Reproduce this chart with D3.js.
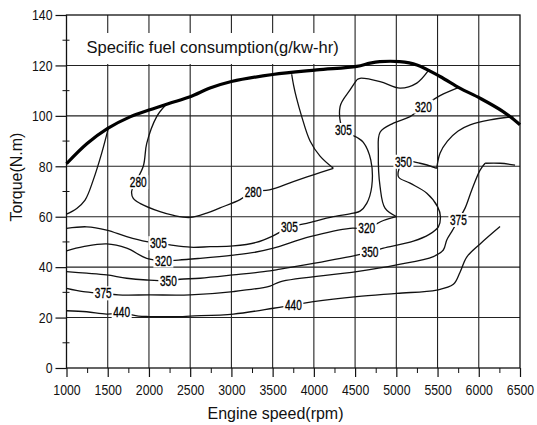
<!DOCTYPE html>
<html>
<head>
<meta charset="utf-8">
<script src="https://cdn.jsdelivr.net/npm/d3@7"></script>
<style>
  body { margin: 0; background: #fff; }
  svg { display: block; font-family: "Liberation Sans", Arial, sans-serif; }
</style>
</head>
<body>
<div id="chart"></div>
<script>
// ── Data ──────────────────────────────────────────────────────────────────
// Points are [engine speed rpm, torque N.m]
const speedTicks  = [1000, 1500, 2000, 2500, 3000, 3500, 4000, 4500, 5000, 5500, 6000, 6500];
const speedMinor  = [1250, 1750, 2250, 2750, 3250, 3750, 4250, 4750, 5250, 5750, 6250];
const torqueTicks = [0, 20, 40, 60, 80, 100, 120, 140];
const torqueMinor = [10, 30, 50, 70, 90, 110, 130];

// full-load (max torque) curve
const maxTorque = [[1000, 81], [1250, 89], [1500, 95], [1770, 99.6], [2000, 102.3], [2250, 105],
  [2500, 107.6], [2740, 111], [3000, 113.6], [3500, 116.4], [4035, 118.2], [4520, 119.6],
  [4680, 120.9], [4800, 121.5], [5040, 121.5], [5250, 120.2], [5530, 115.6], [5770, 111],
  [6015, 107], [6295, 101.7], [6500, 96.5]];

// iso-sfc lines, one array per drawn stroke (split where the pen turns a corner)
const sfc280a = [[1000, 61], [1124, 63.3], [1225, 66.6], [1325, 74.6], [1427, 85.2], [1507, 95]];
const sfc280b = [[2203, 104.3], [2094, 99.7], [1973, 89.1], [1931, 80], [1790, 70], [1810, 67.3],
  [1891, 65.3], [2134, 62], [2300, 60.5], [2498, 59.7], [2700, 61.4], [2862, 63.5], [3105, 66.8],
  [3263, 70], [3460, 70.6], [3751, 73.9], [3994, 76.6], [4236, 79.2]];
const sfc280c = [[4236, 79.2], [4075, 84], [3954, 90], [3850, 100], [3790, 107], [3755, 112], [3731, 116.5]];
const sfc305a = [[1000, 55.4], [1245, 56], [1487, 54.7], [1730, 52.1], [1973, 50.1], [2114, 49.5],
  [2255, 48.8], [2502, 47.9], [2741, 48.1], [3023, 48.4], [3300, 49.8], [3510, 52.5], [3703, 55.8],
  [3913, 57.4], [4236, 60], [4479, 61.4], [4560, 62.2], [4641, 65.3], [4702, 72], [4690, 82.5],
  [4600, 89.5], [4520, 91.5], [4358, 94.4], [4318, 103.7], [4439, 110.3], [4520, 114.3]];
const sfc305b = [[4520, 114.3], [4560, 114.9], [4803, 113.6], [5045, 111], [5248, 113], [5390, 118]];
const sfc320a = [[1000, 46.5], [1204, 48.1], [1487, 49.2], [1730, 47.5], [1973, 43.5], [2175, 42.6],
  [2356, 42.8], [2620, 43.5], [3023, 44.8], [3300, 46], [3509, 47.5], [3954, 52.1], [4439, 55.4],
  [4641, 55.4], [4843, 58.5], [5005, 60]];
const sfc320b = [[5005, 60], [4863, 63.4], [4803, 71.9], [4782, 85.2], [4803, 93.5], [4965, 97.1],
  [5167, 99.7], [5328, 103.7], [5530, 108], [5760, 111.3]];
const sfc350a = [[1000, 38.2], [1245, 37.6], [1487, 36.9], [1730, 35.6], [1973, 34.9], [2235, 34.6],
  [2377, 35.2], [2620, 35.6], [3023, 36.9], [3468, 38.5], [3590, 39.2], [3994, 41.5], [4520, 44.8],
  [4681, 46.1], [4843, 47.5], [5207, 50.3], [5400, 53], [5510, 56], [5535, 60], [5500, 64],
  [5370, 69.3], [5167, 73.3], [5025, 75.9], [5086, 81.8], [5288, 81.2], [5490, 79.2]];
const sfc350b = [[5490, 79.2], [5530, 85.2], [5620, 90], [5750, 94], [5895, 96.4], [6137, 98.4], [6420, 99.7]];
const sfc375a = [[1000, 31.6], [1204, 30.3], [1446, 29.6], [1628, 29], [2013, 29], [2500, 29],
  [3023, 30.3], [3468, 32.5], [3590, 34.2], [4520, 38.2], [5005, 40.9], [5450, 44.2], [5570, 46.8],
  [5612, 50.8], [5672, 54.1], [5753, 58.7], [5834, 63.4], [5915, 70.6], [6016, 78.5], [6077, 81.2]];
const sfc375b = [[6077, 81.2], [6258, 81.2], [6440, 80.5]];
const sfc440 = [[1000, 22.7], [1245, 22.3], [1487, 21.4], [1689, 21.7], [1871, 20.6], [2000, 20.4],
  [2376, 20.4], [2500, 20.6], [3023, 21.4], [3509, 23.7], [3751, 25], [3994, 26.3], [4520, 28.3],
  [5005, 29.6], [5490, 30.9], [5692, 33.2], [5773, 38], [5854, 44], [6016, 49.2], [6258, 56.1]];

const sfcLines = [sfc280a, sfc280b, sfc280c, sfc305a, sfc305b, sfc320a, sfc320b,
  sfc350a, sfc350b, sfc375a, sfc375b, sfc440];

// in-line contour labels: [text, rpm, torque]
const sfcLabels = [
  ['280', 1870, 73.7], ['280', 3263, 70],
  ['305', 2114, 49.5], ['305', 3703, 55.8], ['305', 4358, 94.4],
  ['320', 2175, 42.6], ['320', 4641, 55.4], ['320', 5328, 103.7],
  ['350', 2235, 34.6], ['350', 4681, 46.1], ['350', 5086, 81.8],
  ['375', 1446, 29.6], ['375', 5753, 58.7],
  ['440', 1669, 22.3], ['440', 3751, 25]
];

// ── Layout ───────────────────────────────────────────────────────────────
const W = 537, H = 425;
const M = { top: 15, right: 17, bottom: 57, left: 66.5 };
const iw = W - M.left - M.right;
const ih = H - M.top - M.bottom;

const x = d3.scaleLinear().domain([1000, 6500]).range([0, iw]);
const y = d3.scaleLinear().domain([0, 140]).range([ih, 0]);

const svg = d3.select('#chart').append('svg').attr('width', W).attr('height', H);
const g = svg.append('g').attr('transform', `translate(${M.left},${M.top})`);

// ── Grid ─────────────────────────────────────────────────────────────────
g.append('g')
  .selectAll('line').data(speedTicks.slice(1, -1)).join('line')
    .attr('x1', d => x(d)).attr('x2', d => x(d))
    .attr('y1', 0).attr('y2', ih)
    .attr('stroke', '#222').attr('stroke-width', 1.1);
g.append('g')
  .selectAll('line').data(torqueTicks.slice(1, -1)).join('line')
    .attr('x1', 0).attr('x2', iw)
    .attr('y1', d => y(d)).attr('y2', d => y(d))
    .attr('stroke', '#222').attr('stroke-width', 1.1);

// white box behind the title interrupts the grid
g.append('rect')
  .attr('x', 12).attr('y', 18).attr('width', 270).attr('height', 31)
  .attr('fill', '#fff');

g.append('rect')
  .attr('width', iw).attr('height', ih)
  .attr('fill', 'none').attr('stroke', '#111').attr('stroke-width', 1.3);

// ── Axes ─────────────────────────────────────────────────────────────────
function narrow(sel, sx) {
  sel.selectAll('text').each(function () {
    const t = d3.select(this);
    const tx = +t.attr('x') || 0;
    const ty = +t.attr('y') || 0;
    t.attr('x', 0).attr('y', 0)
      .attr('transform', `translate(${tx},${ty}) scale(${sx},1)`);
  });
}

const xAxis = g.append('g').attr('transform', `translate(0,${ih})`)
  .call(d3.axisBottom(x).tickValues(speedTicks).tickSize(9).tickPadding(7).tickFormat(d3.format('d')))
  .call(a => a.select('.domain').remove());
xAxis.selectAll('line').attr('stroke', '#111').attr('stroke-width', 1.2);
xAxis.selectAll('text').attr('font-size', 15).attr('fill', '#111')
  .attr('font-family', '"Liberation Sans", Arial, sans-serif');
narrow(xAxis, 0.82);

g.append('g').attr('transform', `translate(0,${ih})`)
  .call(d3.axisBottom(x).tickValues(speedMinor).tickSize(5).tickFormat(''))
  .call(a => a.select('.domain').remove())
  .selectAll('line').attr('stroke', '#111');

const yAxis = g.append('g')
  .call(d3.axisLeft(y).tickValues(torqueTicks).tickSize(11).tickPadding(3))
  .call(a => a.select('.domain').remove());
yAxis.selectAll('line').attr('stroke', '#111').attr('stroke-width', 1.2);
yAxis.selectAll('text').attr('font-size', 15).attr('fill', '#111')
  .attr('font-family', '"Liberation Sans", Arial, sans-serif');
narrow(yAxis, 0.82);

g.append('g')
  .selectAll('line').data(torqueMinor).join('line')
    .attr('x1', -4).attr('x2', 3)
    .attr('y1', d => y(d)).attr('y2', d => y(d))
    .attr('stroke', '#111');

// ── Contours ─────────────────────────────────────────────────────────────
const line = d3.line()
  .x(d => x(d[0])).y(d => y(d[1]))
  .curve(d3.curveCatmullRom.alpha(0.5));

g.append('g')
  .selectAll('path').data(sfcLines).join('path')
    .attr('d', line)
    .attr('fill', 'none').attr('stroke', '#111').attr('stroke-width', 1.3)
    .attr('stroke-linejoin', 'round');

g.append('path').datum(maxTorque)
  .attr('d', line)
  .attr('fill', 'none').attr('stroke', '#000').attr('stroke-width', 3.2)
  .attr('stroke-linejoin', 'round');

// ── Contour labels ───────────────────────────────────────────────────────
const lab = g.append('g').selectAll('g').data(sfcLabels).join('g')
  .attr('transform', d => `translate(${x(d[1])},${y(d[2])})`);
lab.append('rect')
  .attr('x', -10).attr('y', -7).attr('width', 20).attr('height', 14)
  .attr('fill', '#fff');
lab.append('text')
  .attr('transform', 'scale(0.72,1)')
  .attr('text-anchor', 'middle').attr('dy', '0.36em')
  .attr('font-size', 14).attr('fill', '#000')
  .attr('stroke', '#000').attr('stroke-width', 0.35)
  .text(d => d[0]);

// ── Titles ───────────────────────────────────────────────────────────────
g.append('text')
  .attr('x', 20).attr('y', 38)
  .attr('font-size', 16.5).attr('fill', '#111')
  .text('Specific fuel consumption(g/kw-hr)');

svg.append('text')
  .attr('x', 275.5).attr('y', 419)
  .attr('text-anchor', 'middle')
  .attr('font-size', 16).attr('fill', '#111')
  .text('Engine speed(rpm)');

svg.append('text')
  .attr('transform', 'translate(22,177) rotate(-90)')
  .attr('text-anchor', 'middle')
  .attr('font-size', 16).attr('fill', '#111')
  .text('Torque(N.m)');
</script>
</body>
</html>
